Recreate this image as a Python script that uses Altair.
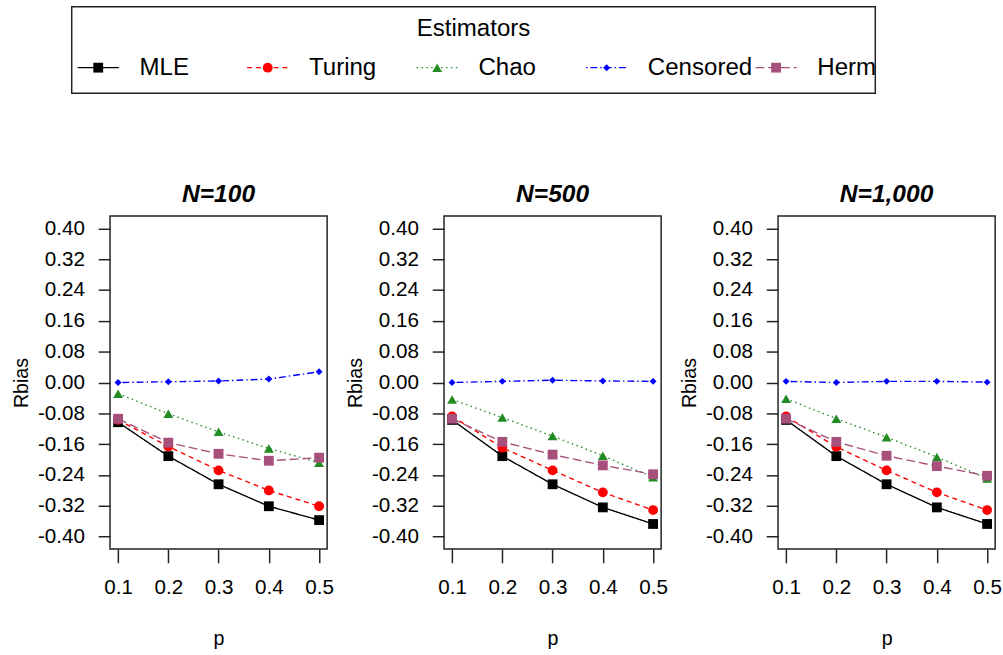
import altair as alt
import pandas as pd

# ---------------- data ----------------
p_values = [0.1, 0.2, 0.3, 0.4, 0.5]
estimators = ["MLE", "Turing", "Chao", "Censored", "Herm"]
panel_titles = ["N=100", "N=500", "N=1,000"]

n100_mle = [-0.103, -0.191, -0.264, -0.321, -0.357]
n100_turing = [-0.097, -0.166, -0.228, -0.280, -0.321]
n100_chao = [-0.029, -0.081, -0.128, -0.171, -0.208]
n100_censored = [0.000, 0.002, 0.004, 0.009, 0.028]
n100_herm = [-0.094, -0.156, -0.185, -0.203, -0.195]

n500_mle = [-0.097, -0.191, -0.264, -0.324, -0.367]
n500_turing = [-0.088, -0.169, -0.228, -0.285, -0.331]
n500_chao = [-0.044, -0.091, -0.139, -0.190, -0.246]
n500_censored = [0.000, 0.003, 0.006, 0.004, 0.003]
n500_herm = [-0.094, -0.154, -0.187, -0.215, -0.238]

n1000_mle = [-0.097, -0.191, -0.264, -0.324, -0.367]
n1000_turing = [-0.088, -0.167, -0.228, -0.285, -0.331]
n1000_chao = [-0.042, -0.094, -0.142, -0.193, -0.249]
n1000_censored = [0.003, 0.000, 0.003, 0.003, 0.001]
n1000_herm = [-0.094, -0.154, -0.190, -0.217, -0.242]

y_ticks = [-0.40, -0.32, -0.24, -0.16, -0.08, 0.00, 0.08, 0.16, 0.24, 0.32, 0.40]
x_ticks = [0.1, 0.2, 0.3, 0.4, 0.5]

panels_data = [
    [n100_mle, n100_turing, n100_chao, n100_censored, n100_herm],
    [n500_mle, n500_turing, n500_chao, n500_censored, n500_herm],
    [n1000_mle, n1000_turing, n1000_chao, n1000_censored, n1000_herm],
]

# ---------------- styles ----------------
FONT = "Liberation Sans"
colors = ["#000000", "#FF0000", "#228B22", "#0000FF", "#A8507C"]
shapes = ["square", "circle", "triangle-up", "diamond", "square"]
dashes = [[1, 0], [5, 4], [1.5, 3.5], [1.5, 3, 7, 3], [9, 4]]

color_scale = alt.Scale(domain=estimators, range=colors)
shape_scale = alt.Scale(domain=estimators, range=shapes)
dash_scale = alt.Scale(domain=estimators, range=dashes)

size_enc = alt.condition(alt.datum.Estimator == "Censored", alt.value(50), alt.value(100))

minus_fix = "replace(format(datum.value, '.2f'), '\u2212', '-')"


def make_panel(series, title):
    rows = []
    for est, vals in zip(estimators, series):
        for p, v in zip(p_values, vals):
            rows.append({"p": p, "Rbias": v, "Estimator": est,
                         "order": estimators.index(est)})
    df = pd.DataFrame(rows)

    x_enc = alt.X(
        "p:Q",
        scale=alt.Scale(domain=[0.084, 0.516], nice=False, zero=False),
        axis=alt.Axis(values=x_ticks, format=".1f", title="p", domain=False,
                      grid=False, tickSize=14, labelPadding=14, titlePadding=32),
    )
    y_enc = alt.Y(
        "Rbias:Q",
        scale=alt.Scale(domain=[-0.432, 0.432], nice=False, zero=False),
        axis=alt.Axis(values=y_ticks, labelExpr=minus_fix, title="Rbias",
                      domain=False, grid=False, tickSize=12, labelPadding=14,
                      titlePadding=6),
    )
    base = alt.Chart(df).encode(
        x=x_enc,
        y=y_enc,
        color=alt.Color("Estimator:N", scale=color_scale, legend=None),
    )
    lines = base.mark_line(strokeWidth=1.4).encode(
        strokeDash=alt.StrokeDash("Estimator:N", scale=dash_scale, legend=None),
        order="p:Q",
    )
    pts = base.mark_point(filled=True, opacity=1).encode(
        shape=alt.Shape("Estimator:N", scale=shape_scale, legend=None),
        size=size_enc,
        order="order:Q",
    )
    return alt.layer(lines, pts).properties(
        width=221,
        height=339,
        title=alt.TitleParams(title, fontSize=25, fontWeight="bold",
                              fontStyle="italic", font=FONT, color="black",
                              offset=9),
    )


panels = alt.hconcat(
    *[make_panel(s, t) for s, t in zip(panels_data, panel_titles)], spacing=10
)

# ---------------- manual legend (R style) ----------------
# legend coordinates are relative to the first panel's plot origin
leg_df = pd.DataFrame({"Estimator": estimators})
leg_x = alt.X("Estimator:N",
              scale=alt.Scale(type="point", domain=estimators, range=[-12, 678],
                              padding=0),
              axis=None)
leg_base = alt.Chart(leg_df)
ROW_Y = 62
LEG_FS = 24.5

box = alt.Chart(pd.DataFrame({"k": [0]})).mark_rect(
    fillOpacity=0, stroke="#222222", strokeWidth=1.5
).encode(x=alt.value(-39), x2=alt.value(779), y=alt.value(0), y2=alt.value(88))

leg_title = alt.Chart(pd.DataFrame({"t": ["Estimators"]})).mark_text(
    fontSize=LEG_FS, font=FONT, color="black", baseline="middle"
).encode(x=alt.value(370), y=alt.value(23), text="t:N")

leg_lines = leg_base.mark_rule(xOffset=-21, x2Offset=21, strokeWidth=1.4).encode(
    x=leg_x,
    x2=alt.X2("Estimator:N"),
    y=alt.value(ROW_Y),
    color=alt.Color("Estimator:N", scale=color_scale, legend=None),
    strokeDash=alt.StrokeDash("Estimator:N", scale=dash_scale, legend=None),
)
leg_pts = leg_base.mark_point(filled=True, opacity=1).encode(
    x=leg_x,
    y=alt.value(ROW_Y),
    color=alt.Color("Estimator:N", scale=color_scale, legend=None),
    shape=alt.Shape("Estimator:N", scale=shape_scale, legend=None),
    size=size_enc,
)
leg_text = leg_base.mark_text(
    align="left", baseline="middle", dx=42, fontSize=LEG_FS, font=FONT, color="black"
).encode(x=leg_x, y=alt.value(ROW_Y), text="Estimator:N")

legend_chart = alt.layer(box, leg_title, leg_lines, leg_pts, leg_text).properties(
    width=780, height=88, view=alt.ViewBackground(strokeOpacity=0)
)

chart = alt.vconcat(legend_chart, panels, spacing=89).properties(
    padding={"left": 11, "top": 0, "right": 0, "bottom": 0},
    background="white",
).configure_view(
    stroke="#222222", strokeWidth=1.5
).configure_axis(
    labelFont=FONT, labelFontSize=21, labelColor="black",
    titleFont=FONT, titleFontSize=20, titleColor="black", titleFontWeight="normal",
    tickColor="#222222", tickWidth=1.5,
)

chart.save("out.html", embed_options={"renderer": "svg", "actions": False})
